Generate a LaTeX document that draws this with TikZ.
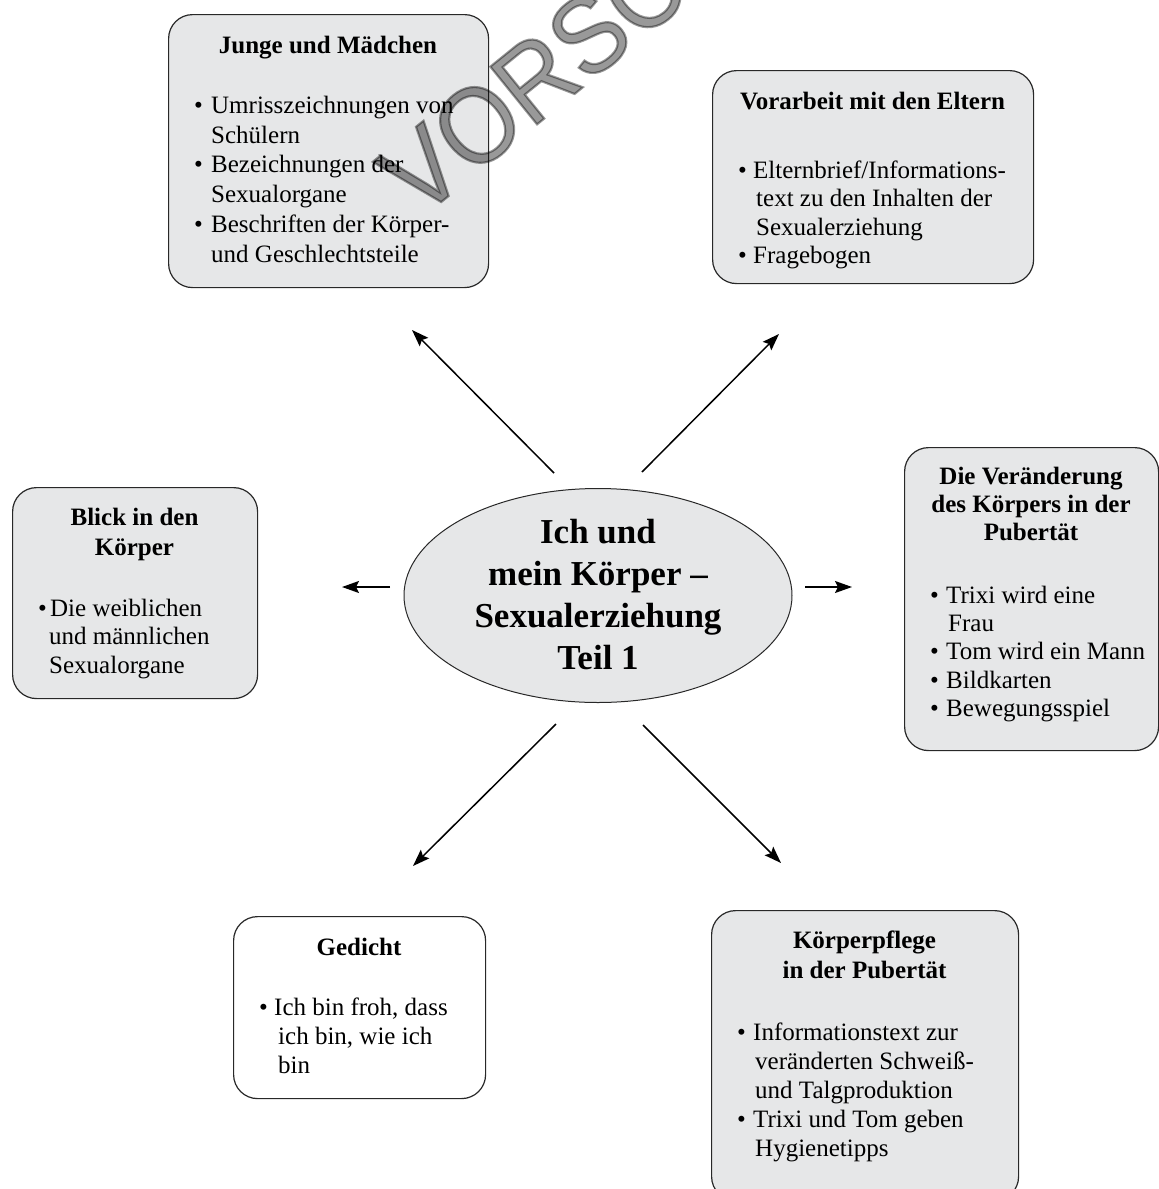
\documentclass[tikz,border=0pt]{standalone}
\usepackage{fontspec}
\setmainfont{Liberation Serif}
\setsansfont{Liberation Sans}
\newfontfamily\wmfont[FakeBold=2,FakeStretch=0.92]{Liberation Sans}
\usetikzlibrary{arrows.meta,shapes.geometric}
\definecolor{boxgray}{RGB}{230,231,232}
\definecolor{edgecol}{RGB}{40,40,40}
\newcommand{\mystrut}{\rule{0pt}{20pt}}
\newcommand{\bigstrut}{\rule{0pt}{28pt}}
\newcommand{\mybul}[1][17pt]{\makebox[#1][l]{•}}
\newcommand{\myind}[1][17pt]{\hspace*{#1}}
\begin{document}
\begin{tikzpicture}[x=1pt,y=-1pt,
  box/.style={draw=edgecol, line width=1.2pt, rounded corners=24pt, fill=boxgray, inner sep=0pt, anchor=north west},
  wbox/.style={box, fill=white},
  ttl/.style={font=\bfseries\fontsize{25}{29}\selectfont, align=center, inner sep=0pt, anchor=north},
  bul/.style={font=\fontsize{25}{29}\selectfont, align=left, inner sep=0pt, anchor=north west},
  arr/.style={-{Stealth[length=17pt,width=12pt,inset=3pt]}, line width=1.5pt, draw=black},
  center/.style={draw=edgecol, line width=1pt, fill=boxgray, ellipse, inner sep=0pt},
  ctext/.style={font=\bfseries\fontsize{35}{42}\selectfont, align=center, inner sep=0pt, anchor=north},
  wmark/.style={font=\wmfont\fontsize{108}{108}\selectfont, text=black, opacity=0.4, rotate=39, anchor=base west, inner sep=0pt}
  ]
\useasboundingbox (0,0) rectangle (1159,1189);

% Box 1: Junge und Mädchen
\node[box, minimum width=320pt, minimum height=273pt] (b1) at (168,14) {};
\node[ttl] (t1) at (328,33) {\mystrut Junge und Mädchen};
\node[bul, font=\fontsize{25}{29.8}\selectfont] (l1) at (194,93) {\mystrut\mybul Umrisszeichnungen von\\
\myind Schülern\\
\mybul Bezeichnungen der\\
\myind Sexualorgane\\
\mybul Beschriften der Körper-\\
\myind und Geschlechtsteile};

% Box 2: Vorarbeit mit den Eltern
\node[box, minimum width=321pt, minimum height=213pt] (b2) at (712,70) {};
\node[ttl] (t2) at (872.5,89) {\mystrut Vorarbeit mit den Eltern};
\node[bul, font=\fontsize{25}{28.5}\selectfont] (l2) at (738,158) {\mystrut\mybul[15pt]Elternbrief/Informations-\\
\myind[18pt]text zu den Inhalten der\\
\myind[18pt]Sexualerziehung\\
\mybul[15pt]Fragebogen};

% Box 3: Die Veränderung des Körpers in der Pubertät
\node[box, minimum width=254pt, minimum height=303pt] (b3) at (904,447) {};
\node[ttl, font=\bfseries\fontsize{25}{28}\selectfont] (t3) at (1031,464) {\mystrut Die Veränderung\\des Körpers in der\\Pubertät};
\node[bul, font=\fontsize{25}{28.3}\selectfont] (l3) at (930,583) {\mystrut\mybul[16pt]Trixi wird eine\\
\myind[18pt]Frau\\
\mybul[16pt]Tom wird ein Mann\\
\mybul[16pt]Bildkarten\\
\mybul[16pt]Bewegungsspiel};

% Box 4: Blick in den Körper
\node[box, minimum width=245pt, minimum height=211pt] (b4) at (12,487) {};
\node[ttl, font=\bfseries\fontsize{25}{30}\selectfont] (t4) at (134.5,505) {\mystrut Blick in den\\Körper};
\node[bul, font=\fontsize{25}{28.5}\selectfont] (l4) at (38,596) {\mystrut\mybul[12pt]Die weiblichen\\
\myind[11pt]und männlichen\\
\myind[11pt]Sexualorgane};

% Box 5: Gedicht
\node[wbox, minimum width=252pt, minimum height=182pt] (b5) at (233,916) {};
\node[ttl] (t5) at (359,935) {\mystrut Gedicht};
\node[bul] (l5) at (259,995) {\mystrut\mybul[15pt]Ich bin froh, dass\\
\myind[19pt]ich bin, wie ich\\
\myind[19pt]bin};

% Box 6: Körperpflege in der Pubertät
\node[box, minimum width=307pt, minimum height=290pt] (b6) at (711,910) {};
\node[ttl, font=\bfseries\fontsize{25}{30}\selectfont] (t6) at (864.5,928) {\mystrut Körperpflege\\in der Pubertät};
\node[bul] (l6) at (737,1020) {\mystrut\mybul[16pt]Informationstext zur\\
\myind[18pt]veränderten Schweiß-\\
\myind[18pt]und Talgproduktion\\
\mybul[16pt]Trixi und Tom geben\\
\myind[18pt]Hygienetipps};

% Centre
\node[center, minimum width=388pt, minimum height=214pt] (c) at (598,595.5) {};
\node[ctext] (ct) at (598,515) {\bigstrut Ich und\\mein Körper –\\Sexualerziehung\\Teil 1};

% Arrows
\coordinate (s1) at (554,473); \coordinate (e1) at (412,330);
\coordinate (s2) at (642,472); \coordinate (e2) at (779,334);
\coordinate (s3) at (390,587); \coordinate (e3) at (342,587);
\coordinate (s4) at (805,587); \coordinate (e4) at (852,587);
\coordinate (s5) at (556,724); \coordinate (e5) at (413,866);
\coordinate (s6) at (643,725); \coordinate (e6) at (781,863);
\foreach \i in {1,...,6} {\draw[arr] (s\i) -- (e\i);}

% Watermark
\node[wmark] (wm) at (419,220) {VORSCHAU};
\end{tikzpicture}
\end{document}
